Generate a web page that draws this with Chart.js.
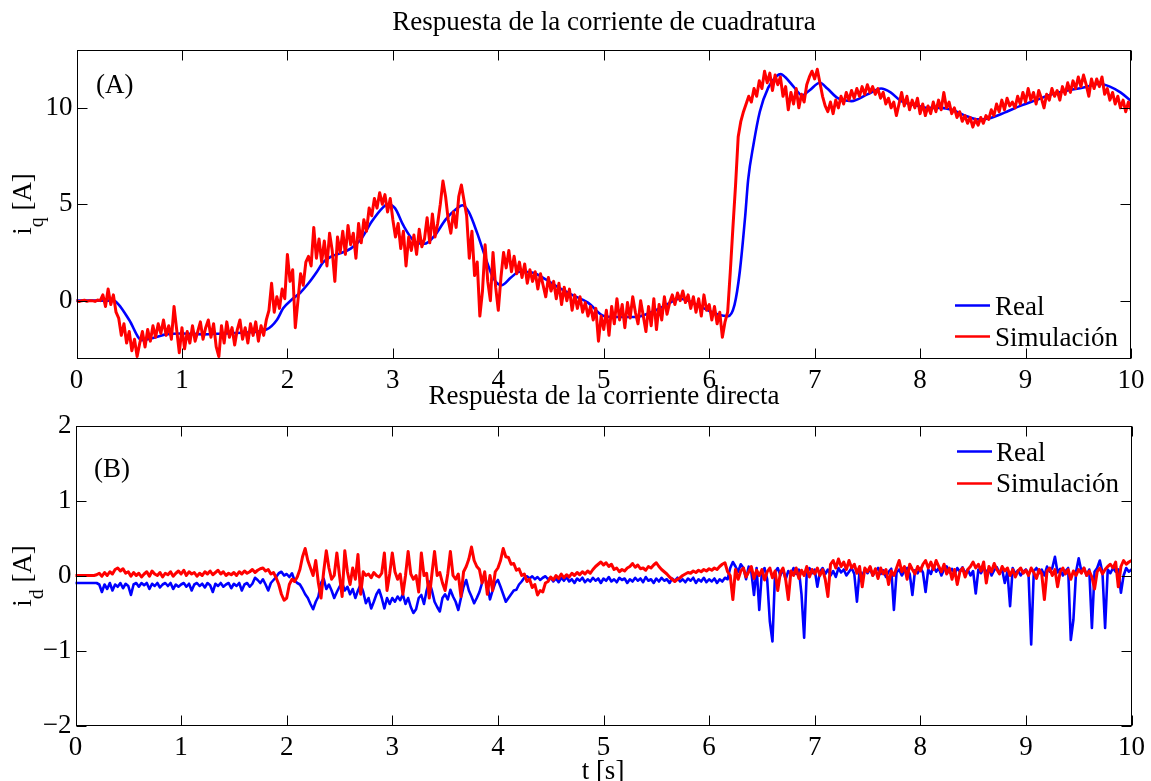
<!DOCTYPE html>
<html><head><meta charset="utf-8">
<script src="https://cdn.jsdelivr.net/npm/chart.js@4.4.1/dist/chart.umd.min.js"></script>
<style>
html,body{margin:0;padding:0;background:#fff;}
#wrap{position:relative;width:1151px;height:781px;overflow:hidden;background:#fff;}
canvas{position:absolute;left:0;top:0;}
</style></head><body>
<div id="wrap"><canvas id="cq" width="1151" height="781"></canvas><canvas id="cd" width="1151" height="781"></canvas></div>
<script>
// ---------- data ----------
const xTicks = [0,1,2,3,4,5,6,7,8,9,10];
const iqTicks = [0,5,10];
const idTicks = [-2,-1,0,1,2];
const SAMPLE_DT = 0.025; // sampling step of the noisy series (s)

// i_q Real (smooth curve, key points)
const iqRealT = [0,0.35,0.4,0.5,0.62,0.75,0.85,1.0,1.2,1.4,1.6,1.8,1.9,1.96,2.05,2.12,2.2,2.28,2.34,2.42,2.5,2.6,2.7,2.8,2.9,2.95,3.02,3.1,3.2,3.3,3.4,3.5,3.6,3.66,3.72,3.8,3.88,3.95,4.03,4.12,4.2,4.33,4.45,4.55,4.7,4.85,5.0,5.1,5.3,5.45,5.6,5.72,5.8,5.95,6.1,6.18,6.24,6.29,6.34,6.37,6.42,6.48,6.56,6.64,6.68,6.72,6.8,6.88,6.95,7.05,7.12,7.22,7.35,7.5,7.63,7.72,7.82,7.95,8.08,8.2,8.3,8.45,8.55,8.65,8.8,8.95,9.1,9.25,9.4,9.55,9.7,9.8,9.9,10.0];
const iqRealV = [0,0,-0.2,-1.0,-2.05,-1.9,-1.75,-1.7,-1.75,-1.7,-1.65,-1.5,-1.0,-0.4,0.1,0.4,0.9,1.5,2.0,2.3,2.45,2.7,3.2,4.1,4.8,5.0,4.8,3.9,3.1,2.95,3.4,4.2,4.75,4.95,4.6,3.5,2.2,1.2,0.8,1.2,1.5,1.45,1.1,0.75,0.3,-0.1,-0.8,-0.85,-0.85,-0.6,-0.2,0.1,0.0,-0.4,-0.75,-0.8,-0.22,1.5,4.3,6.3,8.1,9.8,11.05,11.65,11.75,11.6,11.1,10.65,10.9,11.3,11.0,10.5,10.35,10.7,11.0,10.8,10.35,10.15,10.0,10.0,9.9,9.55,9.4,9.45,9.75,10.1,10.4,10.7,10.9,11.05,11.25,11.1,10.8,10.35];

// i_q Simulación, one value every 0.025 s
const iqSim = [
0,-0.05,0,0.02,-0.03,0,0,-0.04,0.03,0,0.3,-0.3,0.6,-0.2,0.3,-0.6,-0.9,-1.8,-1.2,-2.2,
-1.6,-2.6,-2.0,-2.9,-2.2,-1.6,-2.4,-1.5,-2.1,-1.3,-1.9,-1.2,-1.7,-1.0,-1.8,-1.3,-2.0,-0.3,-1.5,-2.7,
-1.4,-2.5,-1.6,-2.2,-1.3,-2.1,-1.6,-1.1,-2.0,-1.4,-1.0,-1.9,-1.2,-2.4,-2.9,-1.3,-2.2,-1.1,-1.9,-1.4,
-2.3,-1.5,-1.0,-2.0,-1.4,-2.2,-1.2,-1.8,-1.1,-2.1,-1.3,-1.8,-1.0,-0.5,0.9,-0.6,0.2,-0.4,0.6,0.1,
2.4,1.0,1.6,-1.4,0.0,1.4,0.8,2.0,2.3,1.8,3.8,2.2,3.2,2.0,3.1,1.8,3.5,2.6,1.0,3.3,
2.5,3.6,2.4,3.9,2.9,3.5,2.2,4.0,3.0,4.2,3.6,4.8,4.4,5.3,4.8,5.6,5.0,5.5,4.6,5.3,
4.2,3.3,4.0,2.7,3.6,1.8,3.3,2.6,3.4,2.4,3.7,2.8,3.2,4.3,3.0,4.5,3.3,4.0,5.0,6.2,
5.4,4.2,3.5,4.6,3.8,5.4,6.0,5.2,4.4,2.2,3.6,1.3,2.0,-0.8,0.5,2.9,1.0,0.0,2.5,0.7,
-0.5,1.2,2.5,1.7,2.6,1.5,2.3,1.4,2.0,1.2,1.9,0.9,1.6,1.0,1.5,0.6,1.4,0.8,0.2,1.2,
0.5,1.0,0.1,0.9,-0.2,0.7,0.0,0.6,-0.5,0.3,-0.4,0.2,-0.6,-0.1,-0.8,-0.3,-1.0,-0.4,-2.1,-0.8,
-1.5,-0.5,-1.8,-0.3,-1.2,0.1,-1.0,-0.2,-1.4,-0.1,-0.9,0.2,-0.6,-1.2,0.0,-0.8,-1.6,-0.3,-1.3,0.1,
-1.5,-0.2,-1.0,0.2,-0.7,-0.1,0.3,-0.2,0.4,0.0,0.5,-0.1,0.3,-0.4,0.2,-0.6,0.1,-0.8,0.3,-0.5,
-0.2,-1.0,-0.3,-1.2,-0.6,-1.9,-1.1,-0.6,1.5,3.8,6.0,8.5,9.3,9.8,10.2,10.6,10.3,11.0,10.6,11.4,
11.0,11.9,11.3,11.8,10.9,11.7,11.2,11.6,10.6,11.1,9.9,10.8,10.2,11.0,10.0,10.7,10.3,11.2,11.6,11.9,
11.5,12.0,11.3,10.6,10.1,9.8,10.3,9.7,10.4,10.0,10.6,10.2,10.8,10.4,10.9,10.5,11.0,10.6,11.1,10.7,
11.2,10.8,11.1,10.7,11.0,10.5,10.8,10.2,10.5,10.0,10.3,9.6,10.2,10.8,10.1,10.6,9.9,10.4,10.0,10.5,
9.7,10.2,9.6,10.1,9.7,10.3,9.8,10.4,9.9,10.8,10.0,10.3,9.7,10.0,9.5,9.8,9.3,9.6,9.2,9.5,
9.0,9.4,9.1,9.5,9.2,9.6,9.4,9.9,9.6,10.2,9.8,10.4,9.9,10.5,10.1,10.3,10.0,10.6,10.2,10.8,
10.3,11.0,10.4,10.8,10.2,10.9,10.5,10.0,10.7,10.4,11.0,10.6,10.9,10.4,11.1,10.7,11.3,10.8,11.4,11.0,
11.6,11.1,11.7,11.2,10.6,11.5,11.0,11.5,11.1,11.6,10.7,11.0,10.4,10.8,10.2,10.6,10.0,10.4,9.8,10.3,
9.9];

// i_d Real, one value every 0.025 s
const idReal = [
-0.1,-0.1,-0.1,-0.1,-0.1,-0.1,-0.1,-0.1,-0.1,-0.12,-0.22,-0.12,-0.18,-0.1,-0.2,-0.12,-0.15,-0.1,-0.17,-0.11,
-0.14,-0.26,-0.12,-0.1,-0.15,-0.1,-0.13,-0.1,-0.18,-0.11,-0.14,-0.1,-0.16,-0.12,-0.1,-0.14,-0.1,-0.18,-0.12,-0.15,
-0.12,-0.1,-0.15,-0.11,-0.2,-0.12,-0.1,-0.14,-0.11,-0.16,-0.1,-0.13,-0.22,-0.11,-0.14,-0.1,-0.15,-0.12,-0.1,-0.17,
-0.11,-0.14,-0.1,-0.2,-0.12,-0.1,-0.15,-0.11,-0.03,-0.06,-0.1,-0.05,-0.12,-0.2,-0.1,-0.06,-0.02,0.03,0.05,0.0,
0.02,-0.02,0.03,-0.07,-0.1,-0.12,-0.18,-0.25,-0.3,-0.38,-0.45,-0.35,-0.28,-0.1,-0.04,-0.18,-0.12,-0.2,-0.3,-0.22,
-0.15,-0.1,-0.2,-0.15,-0.25,-0.18,-0.3,-0.2,-0.12,-0.22,-0.37,-0.3,-0.44,-0.35,-0.25,-0.19,-0.3,-0.44,-0.3,-0.38,
-0.3,-0.35,-0.28,-0.33,-0.25,-0.38,-0.3,-0.42,-0.5,-0.45,-0.3,-0.26,-0.38,-0.2,-0.08,-0.2,-0.35,-0.42,-0.48,-0.3,
-0.25,-0.32,-0.19,-0.28,-0.35,-0.46,-0.3,-0.15,-0.06,-0.2,-0.28,-0.37,-0.3,-0.22,-0.1,-0.02,-0.12,-0.32,-0.2,-0.1,
-0.06,-0.15,-0.25,-0.35,-0.3,-0.25,-0.2,-0.19,-0.12,-0.08,-0.03,-0.01,-0.04,-0.01,-0.05,-0.02,-0.06,-0.03,-0.01,-0.05,
-0.03,-0.08,-0.04,-0.09,-0.03,-0.07,-0.02,-0.08,-0.05,-0.1,-0.04,-0.07,-0.03,-0.09,-0.05,-0.08,-0.03,-0.07,-0.04,-0.1,
-0.04,-0.07,-0.02,-0.08,-0.05,-0.09,-0.03,-0.06,-0.04,-0.1,-0.05,-0.08,-0.03,-0.07,-0.04,-0.09,-0.02,-0.07,-0.05,-0.1,
-0.04,-0.08,-0.03,-0.07,-0.05,-0.1,-0.04,-0.07,-0.03,-0.08,-0.05,-0.09,-0.04,-0.07,-0.03,-0.1,-0.05,-0.08,-0.03,-0.09,
-0.05,-0.08,-0.04,-0.1,-0.05,-0.08,-0.03,-0.05,0.1,0.18,0.12,0.05,0.15,0.1,-0.05,0.12,0.05,-0.26,0.1,-0.46,
0.05,0.1,-0.05,-0.61,-0.88,0.05,0.1,0.0,0.08,-0.05,0.06,0.02,0.1,0.02,0.08,-0.25,-0.83,0.05,0.1,0.03,
0.08,-0.15,0.05,0.1,0.02,0.08,0.0,0.06,-0.02,0.1,0.04,0.08,0.0,0.05,0.1,0.02,-0.35,0.06,0.0,0.08,
0.03,0.09,0.0,0.06,0.1,0.02,0.07,-0.02,0.05,0.09,-0.46,0.04,0.08,0.0,0.06,0.1,0.02,-0.26,0.07,0.03,
0.1,0.04,-0.22,0.08,0.02,0.12,0.05,0.1,0.0,0.08,0.12,0.04,0.09,0.02,0.1,0.05,0.11,0.03,0.08,0.0,
0.06,-0.24,0.08,0.03,0.1,0.05,0.09,0.0,0.07,0.11,0.03,0.08,-0.1,0.05,-0.41,0.1,0.02,0.07,0.0,0.05,
0.08,0.02,-0.92,0.06,0.1,0.03,0.08,0.0,0.12,0.05,0.1,0.25,0.04,0.09,0.0,0.06,0.1,-0.86,-0.59,0.05,
0.23,0.06,0.1,0.0,0.08,-0.7,0.05,0.1,0.2,0.04,-0.7,0.08,0.03,0.1,0.05,0.08,-0.23,0.0,0.1,0.05,
0.08];

// i_d Simulación, one value every 0.025 s
const idSim = [
0,0,0,0,0,0,0,0,0.01,0.03,-0.01,0.04,0.0,0.05,0.02,0.08,0.1,0.06,0.09,0.03,
0.05,-0.01,0.04,0.0,0.03,-0.02,0.02,0.05,-0.01,0.06,0.02,0.0,0.04,-0.02,0.03,0.01,0.05,-0.01,0.03,0.06,
0.02,0.07,0.0,0.05,0.02,0.04,-0.01,0.03,0.0,0.05,0.02,0.06,0.01,0.04,0.07,0.02,0.05,0.0,0.03,0.01,
0.04,0.0,0.05,0.02,0.06,0.03,0.05,0.08,0.04,0.07,0.09,0.1,0.06,0.08,0.02,0.04,-0.03,-0.12,-0.25,-0.33,
-0.3,-0.12,-0.05,-0.08,-0.02,0.08,0.25,0.36,0.2,0.1,0.0,0.2,-0.1,-0.3,0.05,0.33,0.1,-0.05,0.0,0.3,
0.0,-0.28,0.33,0.05,-0.12,0.1,-0.05,0.28,-0.25,0.05,0.0,0.02,-0.03,0.04,0.0,-0.02,0.03,0.3,-0.2,0.02,
0.3,0.05,-0.05,0.02,-0.25,0.0,0.32,0.02,-0.05,0.0,-0.22,0.3,0.0,0.03,-0.3,0.02,0.32,0.0,0.04,-0.1,
-0.2,0.02,0.32,0.0,-0.05,0.02,-0.28,0.05,0.12,0.22,0.38,0.2,0.12,0.08,-0.1,0.05,-0.25,0.0,-0.2,0.05,
0.1,0.2,0.36,0.25,0.24,0.15,0.16,0.07,0.09,0.0,0.02,-0.08,-0.05,-0.16,-0.12,-0.26,-0.2,-0.22,-0.1,-0.08,
-0.02,-0.06,0.0,-0.04,0.02,-0.03,0.01,-0.02,0.03,0.0,0.04,0.01,0.05,0.02,0.06,0.03,0.08,0.12,0.15,0.18,
0.14,0.17,0.12,0.15,0.08,0.1,0.05,0.08,0.06,0.1,0.12,0.16,0.11,0.14,0.09,0.1,0.07,0.12,0.1,0.14,
0.17,0.12,0.08,0.05,0.02,-0.02,-0.05,-0.08,-0.05,-0.03,0.0,0.02,0.04,0.03,0.06,0.04,0.07,0.05,0.08,0.06,
0.09,0.07,0.1,0.08,0.12,0.15,0.17,0.05,0.0,-0.32,0.08,-0.05,0.06,0.1,-0.02,0.05,0.12,-0.04,0.07,0.0,
0.08,-0.06,0.05,0.1,-0.03,0.06,-0.2,0.04,0.1,-0.05,-0.32,0.06,0.0,0.1,-0.04,0.07,0.0,0.12,-0.02,0.08,
0.02,0.1,0.0,0.08,-0.05,-0.28,0.15,0.2,0.1,0.22,0.12,0.18,0.08,0.2,0.1,0.15,0.03,0.12,-0.15,0.1,
0.05,0.12,0.0,0.09,-0.04,0.1,0.02,0.08,-0.12,0.06,0.0,0.1,0.2,0.05,0.12,-0.05,0.15,0.08,0.02,0.12,
0.06,0.15,0.2,0.1,0.18,0.08,0.2,0.12,0.05,0.15,0.02,0.1,-0.05,0.08,-0.12,0.05,0.1,-0.02,0.08,0.12,
0.18,0.1,0.15,0.06,0.18,-0.1,0.12,0.05,0.16,0.08,0.02,0.12,0.06,0.1,0.0,0.08,-0.02,0.06,0.1,0.03,
0.07,0.0,0.1,0.04,-0.04,0.08,0.02,-0.32,0.06,0.1,0.0,0.08,-0.15,0.05,0.1,0.02,0.08,-0.05,0.06,0.0,
0.08,0.03,0.1,0.0,0.06,-0.02,-0.18,0.05,0.1,0.02,0.08,0.12,0.15,0.1,0.18,-0.15,0.12,0.2,0.15,0.18,
0.2];

// ---------- helpers ----------
const FONT = '"Liberation Serif", "Times New Roman", serif';
const BLUE = '#0000ff', RED = '#ff0000';
const sampled = vals => vals.map((v, i) => ({ x: Math.round(i * SAMPLE_DT * 1000) / 1000, y: v }));
const paired = (ts, vs) => ts.map((t, i) => ({ x: t, y: vs[i] }));
const fmt = v => (v < 0 ? '\u2212' + Math.abs(v) : String(v));

const matlabPlugin = {
  id: 'matlab',
  afterDraw(chart, args, o) {
    const ctx = chart.ctx, a = chart.chartArea, xs = chart.scales.x, ys = chart.scales.y;
    ctx.save();
    ctx.strokeStyle = '#000'; ctx.lineWidth = 1;
    const L = Math.round(a.left) + 0.5, R = Math.round(a.right) - 0.5;
    const T = Math.round(a.top) + 0.5, B = Math.round(a.bottom) - 0.5;
    const tl = 10;
    ctx.beginPath();
    xs.ticks.forEach(t => {
      const p = Math.round(xs.getPixelForValue(t.value)) + 0.5;
      ctx.moveTo(p, T); ctx.lineTo(p, T + tl);
      ctx.moveTo(p, B); ctx.lineTo(p, B - tl);
    });
    ys.ticks.forEach(t => {
      const p = Math.round(ys.getPixelForValue(t.value)) + 0.5;
      ctx.moveTo(L, p); ctx.lineTo(L + tl, p);
      ctx.moveTo(R, p); ctx.lineTo(R - tl, p);
    });
    ctx.stroke();
    ctx.strokeRect(L, T, R - L, B - T);

    ctx.fillStyle = '#000';
    ctx.textBaseline = 'alphabetic';
    const big = '27px ' + FONT, small = '20px ' + FONT;
    ctx.font = big; ctx.textAlign = 'center';
    ctx.fillText(o.title, o.titleX, o.titleY);
    if (o.xlabel) ctx.fillText(o.xlabel, o.xlabelX, o.xlabelY);
    ctx.textAlign = 'left';
    ctx.fillText(o.tag, o.tagX, o.tagY);
    // y label with subscript
    ctx.save();
    ctx.translate(o.ylabX, o.ylabY);
    ctx.rotate(-Math.PI / 2);
    ctx.font = big; const w1 = ctx.measureText(o.ylabMain).width;
    ctx.font = small; const w2 = ctx.measureText(o.ylabSub).width;
    ctx.font = big; const w3 = ctx.measureText(o.ylabRest).width;
    const x0 = -(w1 + w2 + w3) / 2;
    ctx.textAlign = 'left';
    ctx.font = big; ctx.fillText(o.ylabMain, x0, 0);
    ctx.font = small; ctx.fillText(o.ylabSub, x0 + w1, o.subShift);
    ctx.font = big; ctx.fillText(o.ylabRest, x0 + w1 + w2, 0);
    ctx.restore();
    // legend
    ctx.font = big; ctx.textAlign = 'left';
    chart.data.datasets.forEach((ds, i) => {
      const row = o.legend.rows[i];
      ctx.strokeStyle = ds.borderColor; ctx.lineWidth = 2.5;
      ctx.beginPath(); ctx.moveTo(o.legend.x1, row.ly); ctx.lineTo(o.legend.x2, row.ly); ctx.stroke();
      ctx.fillText(ds.label, o.legend.tx, row.ty);
    });
    ctx.restore();
  }
};

Chart.defaults.font.family = FONT;
Chart.defaults.font.size = 27;
Chart.defaults.color = '#000';

function axisOpts(min, max, ticksArr, isX, size) {
  return {
    type: 'linear', min, max,
    afterBuildTicks: s => { s.ticks = ticksArr.map(v => ({ value: v })); },
    afterFit: s => { if (isX) s.height = size; else s.width = size; },
    grid: { display: false, drawTicks: false },
    border: { display: false },
    ticks: { padding: isX ? 6 : 4, color: '#000', font: { family: FONT, size: 27 }, callback: v => fmt(v), maxRotation: 0, minRotation: 0, autoSkip: false }
  };
}

function lineDs(label, data, color, order, smooth, width) {
  return {
    label, data, borderColor: color, backgroundColor: color, borderWidth: width,
    pointRadius: 0, fill: false, order, clip: 0, borderJoinStyle: 'round', borderCapStyle: 'round',
    tension: 0, cubicInterpolationMode: smooth ? 'monotone' : 'default'
  };
}

new Chart(document.getElementById('cq'), {
  type: 'line',
  data: { datasets: [
    lineDs('Real', paired(iqRealT, iqRealV), BLUE, 2, true, 2.6),
    lineDs('Simulación', sampled(iqSim), RED, 1, false, 3)
  ]},
  options: {
    responsive: false, animation: false, devicePixelRatio: 1,
    events: [],
    layout: { padding: { left: 0, top: 50, right: 20, bottom: 781 - 358.5 - 40 } },
    scales: { x: axisOpts(0, 10, xTicks, true, 40), y: axisOpts(-3, 13, iqTicks, false, 76.5) },
    plugins: {
      legend: { display: false }, tooltip: { enabled: false },
      matlab: {
        title: 'Respuesta de la corriente de cuadratura', titleX: 604, titleY: 30,
        tag: '(A)', tagX: 96, tagY: 93,
        ylabMain: 'i', ylabSub: 'q', ylabRest: ' [A]', ylabX: 31, ylabY: 204, subShift: 12,
        legend: { x1: 955, x2: 990, tx: 995, rows: [{ ly: 305.5, ty: 315 }, { ly: 336.5, ty: 346 }] }
      }
    }
  },
  plugins: [matlabPlugin]
});

new Chart(document.getElementById('cd'), {
  type: 'line',
  data: { datasets: [
    lineDs('Real', sampled(idReal), BLUE, 2, false, 2.6),
    lineDs('Simulación', sampled(idSim), RED, 1, false, 3)
  ]},
  options: {
    responsive: false, animation: false, devicePixelRatio: 1,
    events: [],
    layout: { padding: { left: 0, top: 425.5, right: 18, bottom: 0 } },
    scales: { x: axisOpts(0, 10, xTicks, true, 781 - 725.5), y: axisOpts(-2, 2, idTicks, false, 75.5) },
    plugins: {
      legend: { display: false }, tooltip: { enabled: false },
      matlab: {
        title: 'Respuesta de la corriente directa', titleX: 604, titleY: 404,
        xlabel: 't [s]', xlabelX: 603, xlabelY: 779,
        tag: '(B)', tagX: 94, tagY: 477,
        ylabMain: 'i', ylabSub: 'd', ylabRest: ' [A]', ylabX: 31, ylabY: 576, subShift: 12,
        legend: { x1: 957, x2: 992, tx: 996, rows: [{ ly: 451.5, ty: 460.5 }, { ly: 483.5, ty: 492 }] }
      }
    }
  },
  plugins: [matlabPlugin]
});
</script>
</body></html>
